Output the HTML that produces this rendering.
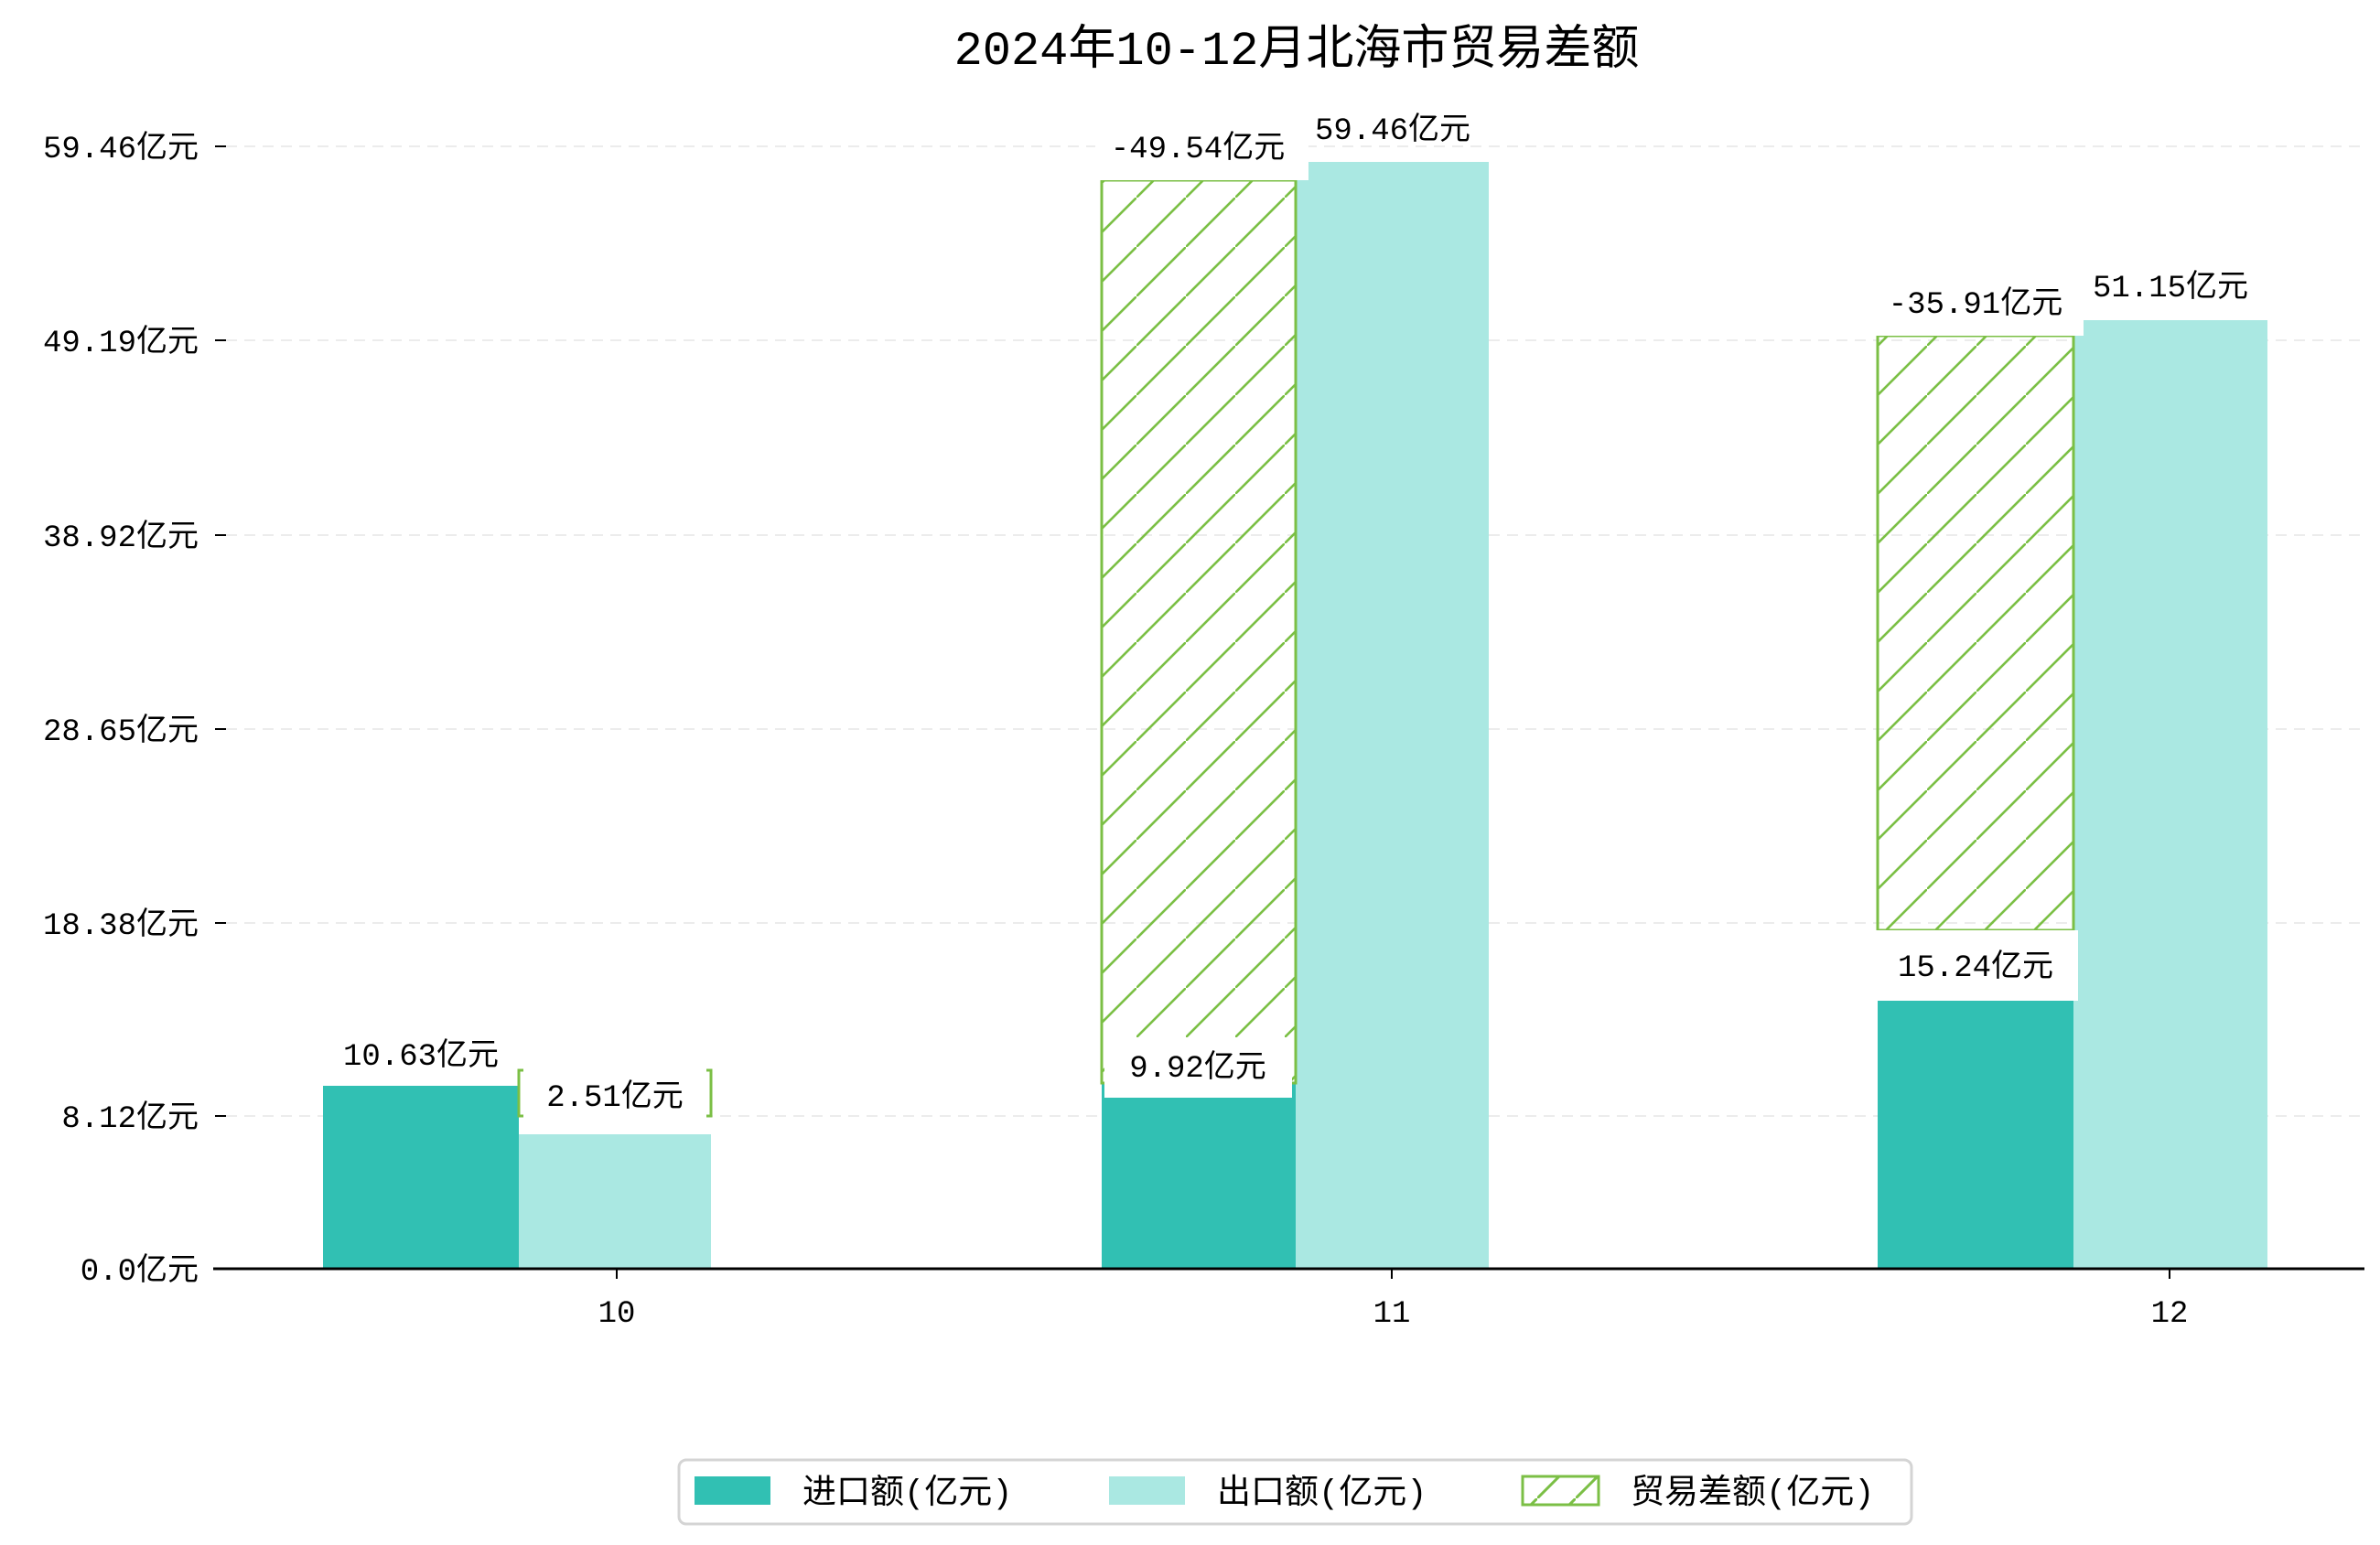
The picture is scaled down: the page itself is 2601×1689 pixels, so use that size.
<!DOCTYPE html>
<html><head><meta charset="utf-8"><style>
html,body{margin:0;padding:0;background:#fff;}
svg{display:block;}
text{font-family:"Liberation Mono","Noto Sans CJK SC",monospace;fill:#000;}
</style></head><body>
<svg width="2601" height="1689" viewBox="0 0 2601 1689" xmlns="http://www.w3.org/2000/svg">
<defs>
<pattern id="h" patternUnits="userSpaceOnUse" width="54" height="54">
<line x1="-5" y1="59" x2="59" y2="-5" stroke="#7bbf45" stroke-width="2.6"/>
</pattern>
<pattern id="h2" patternUnits="userSpaceOnUse" width="42" height="42">
<line x1="-4" y1="46" x2="46" y2="-4" stroke="#7bbf45" stroke-width="3"/>
</pattern>
</defs>
<rect width="2601" height="1689" fill="#fff"/>
<text x="1417" y="70" font-size="52" text-anchor="middle">2024年10-12月北海市贸易差额</text>
<g stroke="#ececec" stroke-width="2" stroke-dasharray="12,8">
<line x1="247" y1="1220" x2="2584" y2="1220"/>
<line x1="247" y1="1009" x2="2584" y2="1009"/>
<line x1="247" y1="797" x2="2584" y2="797"/>
<line x1="247" y1="585" x2="2584" y2="585"/>
<line x1="247" y1="372" x2="2584" y2="372"/>
<line x1="247" y1="160" x2="2584" y2="160"/>
</g>
<g stroke="#000" stroke-width="2">
<line x1="235" y1="1220" x2="247" y2="1220"/>
<line x1="235" y1="1009" x2="247" y2="1009"/>
<line x1="235" y1="797" x2="247" y2="797"/>
<line x1="235" y1="585" x2="247" y2="585"/>
<line x1="235" y1="372" x2="247" y2="372"/>
<line x1="235" y1="160" x2="247" y2="160"/>
<line x1="674" y1="1387" x2="674" y2="1398"/>
<line x1="1521" y1="1387" x2="1521" y2="1398"/>
<line x1="2371" y1="1387" x2="2371" y2="1398"/>
</g>
<g font-size="34" text-anchor="end">
<text x="217" y="1399">0.0亿元</text>
<text x="217" y="1232">8.12亿元</text>
<text x="217" y="1021">18.38亿元</text>
<text x="217" y="809">28.65亿元</text>
<text x="217" y="597">38.92亿元</text>
<text x="217" y="384">49.19亿元</text>
<text x="217" y="172">59.46亿元</text>
</g>
<rect x="353" y="1187" width="214" height="200" fill="#31c0b3"/>
<rect x="567" y="1240" width="210" height="147" fill="#aae8e2"/>
<rect x="567" y="1170" width="210" height="50" fill="none" stroke="#7bbf45" stroke-width="3"/>
<rect x="1204" y="1184" width="212" height="203" fill="#31c0b3"/>
<rect x="1416" y="177" width="211" height="1210" fill="#aae8e2"/>
<rect x="1204" y="197" width="212" height="987" fill="url(#h)" stroke="#7bbf45" stroke-width="3"/>
<rect x="2052" y="1094" width="214" height="293" fill="#31c0b3"/>
<rect x="2266" y="350" width="212" height="1037" fill="#aae8e2"/>
<rect x="2052" y="367" width="214" height="650" fill="url(#h)" stroke="#7bbf45" stroke-width="3"/>
<g fill="#fff">
<rect x="572" y="1160" width="200" height="80"/>
<rect x="1207" y="1134" width="205" height="66"/>
<rect x="1197" y="130" width="233" height="67"/>
<rect x="2044" y="1017" width="227" height="77"/>
<rect x="2044" y="300" width="233" height="67"/>
</g>
<g font-size="34" text-anchor="middle">
<text x="460" y="1164">10.63亿元</text>
<text x="672" y="1209">2.51亿元</text>
<text x="1309" y="1177">9.92亿元</text>
<text x="1309" y="172">-49.54亿元</text>
<text x="1522" y="152">59.46亿元</text>
<text x="2159" y="1067">15.24亿元</text>
<text x="2159" y="342">-35.91亿元</text>
<text x="2372" y="324">51.15亿元</text>
</g>
<line x1="233" y1="1387" x2="2584" y2="1387" stroke="#000" stroke-width="3"/>
<g font-size="34" text-anchor="middle">
<text x="674" y="1445">10</text>
<text x="1521" y="1445">11</text>
<text x="2371" y="1445">12</text>
</g>
<rect x="742" y="1596" width="1347" height="70" rx="8" fill="#fff" stroke="#d4d4d4" stroke-width="3"/>
<rect x="759" y="1614" width="83" height="31" fill="#31c0b3"/>
<rect x="1212" y="1614" width="83" height="31" fill="#aae8e2"/>
<rect x="1664" y="1614" width="83" height="31" fill="url(#h2)" stroke="#7bbf45" stroke-width="3"/>
<g font-size="37">
<text x="877" y="1643">进口额(亿元)</text>
<text x="1330" y="1643">出口额(亿元)</text>
<text x="1782" y="1643">贸易差额(亿元)</text>
</g>
</svg>
</body></html>
